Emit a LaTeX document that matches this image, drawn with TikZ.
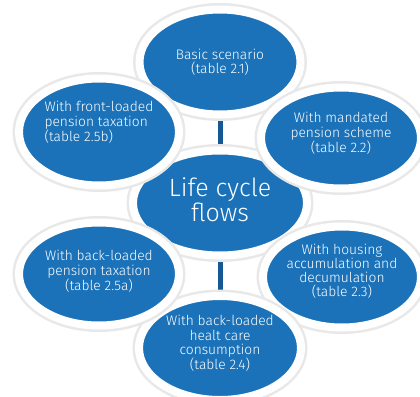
\documentclass[tikz,border=0pt]{standalone}
\usepackage{fontspec}
\setmainfont{Fira Sans}[UprightFont=* Light]
\usepackage{tikz}
\usetikzlibrary{shapes.geometric}
\usetikzlibrary{backgrounds}
\definecolor{cycleblue}{RGB}{27,114,184}
\definecolor{bardark}{RGB}{22,88,148}

\begin{document}
\begin{tikzpicture}
  [x=1pt,y=-1pt,
   every node/.style={ellipse,
                      fill=cycleblue,
                      draw=white,
                      line width=8pt,
                      inner sep=0pt,
                      text=white,
                      align=center,
                      font=\fontsize{13.8}{14.2}\selectfont,
                      %soft grey halo round the white rim
                      preaction={draw=black!9,line width=13pt}
                      },
   hub/.style={font=\fontsize{25}{25}\selectfont},
   lift/.style={text depth=#1},
   bar/.style={draw=bardark,line width=5pt}]
  \useasboundingbox (0,0) rectangle (420,396);
  % centre first, the others lie over it
  \node[hub,minimum width=174pt,minimum height=105pt,lift=6pt] (flows) at (220,203)
       {Life cycle\\flows};
  \node[minimum width=161pt,minimum height=105pt] (basic) at (220,62)
       {Basic scenario\\(table 2.1)};
  \node[minimum width=160pt,minimum height=101pt,lift=11pt] (mandated) at (341,138)
       {With mandated\\pension scheme\\(table 2.2)};
  \node[minimum width=158pt,minimum height=101pt,lift=13pt] (housing) at (342,277)
       {With housing\\accumulation and\\decumulation\\(table 2.3)};
  \node[minimum width=162pt,minimum height=104pt,lift=11pt] (health) at (220,348)
       {With back-loaded\\healt care\\consumption\\(table 2.4)};
  \node[minimum width=160pt,minimum height=103pt,lift=7pt] (backtax) at (99,274)
       {With back-loaded\\pension taxation\\(table 2.5a)};
  \node[minimum width=160pt,minimum height=107pt,lift=21pt,align=left] (fronttax) at (99,132)
       {With front-loaded\\pension taxation\\(table 2.5b)};
  \begin{scope}[on background layer]
    \draw[bar] (flows) -- (basic);
    \draw[bar] (flows) -- (health);
  \end{scope}
\end{tikzpicture}
\end{document}
